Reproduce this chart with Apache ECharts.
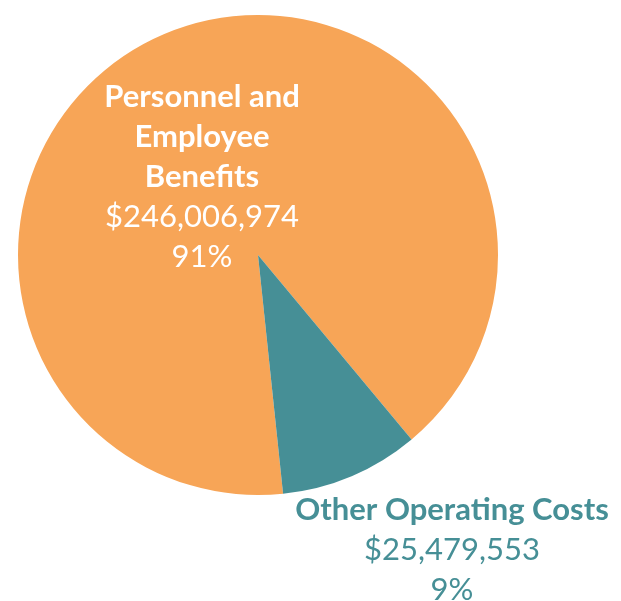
<!DOCTYPE html>
<html>
<head>
<meta charset="utf-8">
<script src="https://cdn.jsdelivr.net/npm/echarts@6/dist/echarts.min.js"></script>
<style>
  html, body { margin: 0; padding: 0; background: #fff; }
  #chart { width: 621px; height: 601px; }
</style>
</head>
<body>
<div id="chart"></div>
<script>
  // 类别与数值
  const categories = ['Personnel and\nEmployee\nBenefits', 'Other Operating Costs']
  const values = [246006974, 25479553]
  const colors = ['#F7A557', '#468F96']
  const labelColors = ['#ffffff', '#468F96']

  const chart = echarts.init(document.getElementById('chart'))

  // 标签位置（每个扇区一个）
  const labelPos = [
    { x: 202, y: 177 },
    { x: 452, y: 550 }
  ]

  const options = {
    animation: false,
    series: [
      {
        type: 'pie',
        center: [258, 255],
        radius: 240,
        startAngle: 276,
        clockwise: true,
        avoidLabelOverlap: false,
        silent: true,
        data: categories.map((name, i) => ({
          name: name,
          value: values[i],
          itemStyle: { color: colors[i] },
          label: { color: labelColors[i] }
        })),
        label: {
          show: true,
          position: 'inside',
          fontFamily: 'Lato',
          align: 'center',
          formatter: p => '{b|' + p.name + '}\n{v|$' + p.value.toLocaleString('en-US') + '}\n{v|' + Math.round(p.percent) + '%}',
          rich: {
            b: { fontFamily: 'Lato', fontWeight: 'bold', fontSize: 31, lineHeight: 40, align: 'center' },
            v: { fontFamily: 'Lato', fontSize: 31, lineHeight: 40, align: 'center' }
          }
        },
        labelLine: { show: false },
        labelLayout: params => ({
          x: labelPos[params.dataIndex].x,
          y: labelPos[params.dataIndex].y,
          align: 'center',
          verticalAlign: 'middle'
        })
      }
    ]
  }

  chart.setOption(options)
</script>
</body>
</html>
